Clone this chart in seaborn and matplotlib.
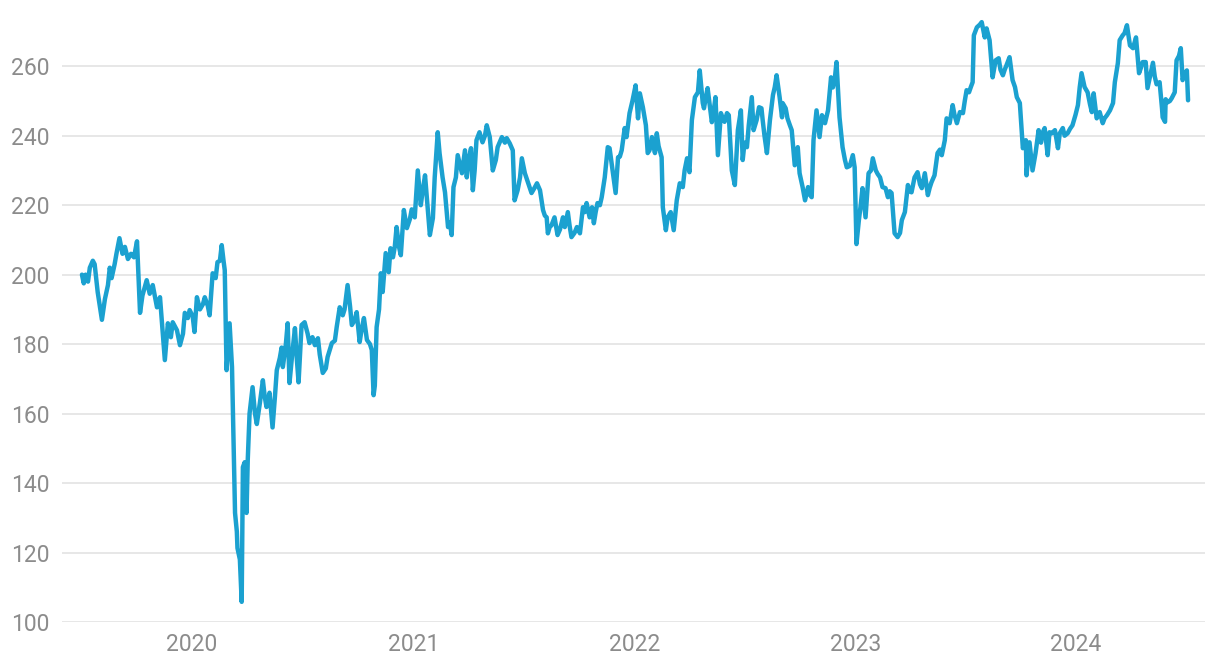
import pandas as pd
import numpy as np
import matplotlib
matplotlib.use("Agg")
import matplotlib.pyplot as plt
import seaborn as sns

# days since 2019-07-01
days = [2, 5, 8, 12, 15, 20, 23, 28, 35, 40, 45, 48, 51, 56, 59, 64, 69, 73, 78, 83,
        88, 93, 98, 102, 109, 114, 119, 126, 131, 139, 144, 149, 152, 159, 164, 169, 172, 177, 180,
        185, 188, 192, 197, 202, 205, 210, 213, 218, 223, 226, 230, 233, 236, 238, 241, 246, 250,
        251, 255, 258, 259, 263, 266, 268, 271, 274, 276, 279, 283, 284, 288, 291, 296, 301, 304,
        307, 312, 317, 321, 324, 329, 332, 334, 339, 342, 345, 350, 354, 357, 360, 365, 370, 375,
        378, 383, 387, 392, 395, 400, 405, 408, 415, 420, 423, 428, 433, 436, 441, 445, 448, 453,
        456, 461, 464, 468, 473, 478, 481, 484, 486, 489, 493, 496, 499, 504, 509, 512, 516, 519,
        522, 526, 529, 534, 539, 544, 547, 552, 557, 562, 565, 569, 573, 577, 582, 585, 590, 593,
        598, 602, 607, 610, 613, 616, 620, 623, 630, 635, 638, 641, 645, 648, 651, 654, 659, 664,
        668, 671, 676, 681, 686, 689, 696, 701, 704, 709, 714, 717, 722, 726, 729, 734, 739, 742,
        745, 750, 754, 759, 764, 767, 770, 772, 775, 778, 783, 788, 792, 797, 800, 805, 808, 811,
        816, 820, 825, 830, 833, 836, 841, 845, 848, 851, 854, 858, 861, 866, 871, 874, 879, 884,
        888, 891, 894, 899, 902, 907, 912, 917, 921, 924, 929, 934, 937, 940, 944, 947, 949, 952,
        955, 960, 962, 967, 970, 975, 980, 985, 990, 995, 998, 1002, 1006, 1010, 1015, 1020, 1023,
        1028, 1030, 1033, 1036, 1040, 1043, 1046, 1049, 1053, 1058, 1061, 1064, 1068, 1071, 1076,
        1081, 1086, 1091, 1094, 1097, 1101, 1104, 1109, 1112, 1117, 1121, 1125, 1127, 1130, 1134,
        1139, 1144, 1147, 1150, 1155, 1159, 1160, 1165, 1168, 1172, 1175, 1180, 1185, 1188, 1193,
        1197, 1202, 1205, 1208, 1211, 1216, 1221, 1225, 1230, 1235, 1240, 1243, 1246, 1249, 1254,
        1259, 1263, 1266, 1271, 1276, 1279, 1282, 1286, 1289, 1292, 1297, 1302, 1306, 1309, 1314,
        1317, 1321, 1325, 1330, 1334, 1337, 1340, 1345, 1350, 1354, 1357, 1362, 1367, 1370, 1373,
        1378, 1383, 1387, 1390, 1395, 1400, 1403, 1406, 1411, 1416, 1420, 1423, 1428, 1431, 1436,
        1441, 1444, 1448, 1453, 1458, 1461, 1464, 1468, 1471, 1474, 1476, 1481, 1486, 1489, 1494,
        1497, 1502, 1507, 1512, 1517, 1520, 1524, 1527, 1530, 1535, 1540, 1544, 1547, 1552, 1557,
        1562, 1563, 1568, 1573, 1578, 1583, 1587, 1590, 1593, 1598, 1601, 1605, 1610, 1615, 1618,
        1623, 1626, 1631, 1635, 1639, 1644, 1648, 1651, 1654, 1659, 1664, 1668, 1671, 1674, 1679,
        1684, 1689, 1692, 1696, 1701, 1706, 1709, 1714, 1717, 1722, 1725, 1729, 1734, 1739, 1744,
        1749, 1752, 1755, 1760, 1763, 1767, 1772, 1775, 1778, 1783, 1787, 1788, 1792, 1793, 1796,
        1800, 1803, 1808, 1811, 1815, 1818, 1821, 1825, 1828, 1830]

price = [200, 197.5, 200, 198, 202, 204, 203, 195, 187, 193, 197, 202, 199, 203, 206, 210.5, 206, 208, 204.5, 206,
         205, 209.6, 189, 194, 198.4, 194.5, 197, 190.6, 193.5, 175.4, 186, 182, 186.3, 184, 179.7, 183, 189, 187.5, 189.8,
         188, 183.5, 193.5, 190, 191.5, 193.5, 191, 188.3, 200.4, 199, 203.6, 204, 208.5, 204, 201.3, 172.5, 186, 173.4,
         164.7, 131.4, 126, 121.3, 118, 105.8, 144.6, 146, 131.4, 146.6, 160, 166, 167.6, 160, 157, 163, 169.6, 165,
         161.9, 166, 156, 165, 172.5, 176, 179, 173.4, 180, 186, 168.8, 178, 184.6, 176, 169, 185.5, 186.3, 183,
         180.3, 182, 179.7, 181.7, 177, 171.7, 173, 176.3, 180.3, 181, 184.9, 190.6, 188.3, 190, 197, 191, 185.5, 187,
         189.2, 180.6, 184, 187.5, 181.2, 180, 178.3, 165.3, 168, 184.9, 190, 200.4, 195, 206.2, 200.7, 207.6, 205, 208,
         213.7, 208, 205.6, 218.6, 213.4, 216, 218.8, 216.5, 230, 220, 224, 228.6, 220, 211.4, 216.3, 228, 241, 235,
         228, 223.7, 213.7, 215, 211.4, 225.2, 228, 234.4, 229.2, 235.8, 228, 233, 236.4, 224.3, 230, 238.7, 241, 238.1,
         240, 243, 239.6, 230, 233, 236.7, 239.6, 238, 239.3, 237.8, 235.8, 221.4, 224.3, 228, 233.5, 229.2, 226.6, 225,
         223.5, 225, 226.3, 224.3, 218.6, 217, 216.5, 211.9, 213.7, 214.2, 216.5, 211.4, 213, 216.5, 213.7, 218, 214, 210.8,
         212, 213.7, 211.9, 219.4, 218, 220.6, 216.5, 219.4, 214.8, 218, 220.6, 220, 222.3, 228, 236.7, 236.4, 230, 223.5,
         233.8, 234, 235.8, 242.2, 239.6, 246.5, 250.2, 254.5, 245, 252.2, 248.2, 243, 235, 235.8, 239.6, 236.7, 235, 240.7,
         237, 233.8, 219.4, 212.8, 216.5, 218, 212.8, 221.4, 226.3, 225.2, 230, 233.5, 229.5, 244.5, 251.1, 252.5, 258.8,
         249.4, 247.9, 251, 253.7, 248, 243.9, 247, 251.1, 234.4, 246.5, 245, 244, 246.5, 245.9, 230,
         225.8, 241.6, 247.3, 233, 238, 236.7, 243, 251.1, 241.6, 244.5, 248.2, 247.9, 244.5, 240, 235,
         244.5, 251.7, 254, 257.4, 251.1, 245.3, 249.4, 247.9, 245, 243, 241.6, 231.5, 236.7, 229.2, 225.2,
         221.4, 225.2, 223, 222.3, 238.7, 247.3, 239.6, 245.9, 243.6, 247.3, 256.8, 253.9, 256, 261.2, 245.3,
         236.7, 233, 230.9, 231.3, 234.4, 230.9, 208.8, 215.7, 220, 224.9, 216.5, 229.2, 230, 233.5, 230,
         229, 228, 225.2, 224.9, 222.3, 224, 223.5, 211.9, 210.8, 212, 215.7, 218, 225.8, 224, 223.7,
         228, 229.5, 226, 224.9, 229.2, 222.9, 225, 226.6, 228.6, 235, 236, 234.4, 238.7, 245, 243.6,
         248.8, 246, 243.6, 246.8, 246.5, 250, 253.1, 252.5, 254, 255.4, 268.9, 271.2, 272, 272.7, 268.3,
         270.9, 267.5, 256.8, 261.7, 262.3, 259, 257.4, 259, 260.3, 262.6, 256, 254, 251.1, 249.4, 236.4,
         238.7, 228.6, 238.1, 230, 235, 241.6, 238, 241, 242.2, 234.4, 241, 240.7, 241.6, 236.4, 240.7,
         242.2, 240, 240.7, 242, 243, 246, 248.8, 254, 258, 254, 252.5, 249, 246.8, 252.2, 245,
         246.8, 243.6, 245, 245.9, 247.3, 249.4, 255.4, 260.9, 267.5, 268.9, 269.5, 271.8, 266, 265.2, 268.3,
         258, 259.5, 261.2, 261.2, 253.7, 257, 261, 257, 254.8, 255.4, 247.8, 245.3, 244, 250.5, 249.6,
         250, 250.8, 252.5, 261.7, 263, 265.2, 256, 258, 258.8, 250.2]

year_ticks = ["2020", "2021", "2022", "2023", "2024"]
y_ticks = [100, 120, 140, 160, 180, 200, 220, 240, 260]

df = pd.DataFrame({
    "date": pd.Timestamp("2019-07-01") + pd.to_timedelta(days, unit="D"),
    "price": price,
})

sns.set_style("white")
plt.rcParams["font.family"] = ["Roboto", "DejaVu Sans"]

fig = plt.figure(figsize=(12.2, 6.72), dpi=100)
ax = fig.add_axes([0.0508, 0.0744, 0.9369, 0.918])

sns.lineplot(data=df, x="date", y="price", ax=ax, color="#1BA1D0", linewidth=3.2)

ax.set_xlim(pd.Timestamp("2019-05-31"), pd.Timestamp("2024-08-01"))
ax.set_ylim(100, 277.6)
ax.set_yticks(y_ticks)
ax.set_xticks([pd.Timestamp(f"{y}-01-01") for y in year_ticks])
ax.set_xticklabels(year_ticks)
ax.set_xlabel("")
ax.set_ylabel("")
ax.grid(axis="y", color="#e3e3e3", linewidth=1.2)
ax.set_axisbelow(True)
for s in ax.spines.values():
    s.set_visible(False)
ax.tick_params(axis="both", length=0, labelsize=16.5, colors="#8c8c8c")
ax.tick_params(axis="y", pad=9)
ax.tick_params(axis="x", pad=8)

fig.savefig("out.png", dpi=100)
